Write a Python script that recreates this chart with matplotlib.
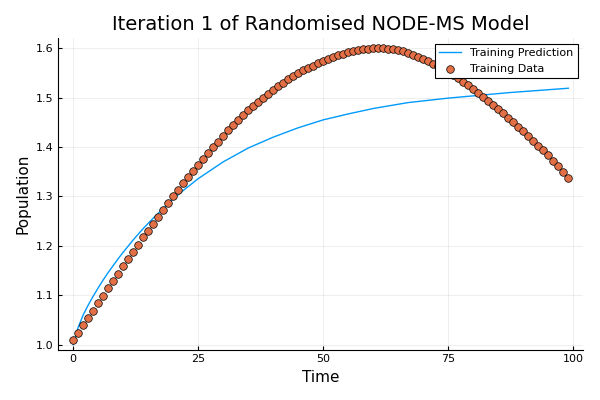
import matplotlib.pyplot as plt

data_t = list(range(100))
data_y = [
    1.009, 1.024, 1.039, 1.054, 1.069, 1.084, 1.099, 1.114, 1.129, 1.144, 1.159,
    1.173, 1.188, 1.202, 1.217, 1.231, 1.245, 1.259, 1.273, 1.287, 1.301,
    1.314, 1.327, 1.340, 1.352, 1.364, 1.376, 1.388, 1.400, 1.411, 1.423,
    1.434, 1.444, 1.454, 1.464, 1.474, 1.483, 1.492, 1.500, 1.508, 1.516,
    1.523, 1.530, 1.537, 1.543, 1.549, 1.555, 1.560, 1.565, 1.570, 1.575,
    1.579, 1.583, 1.586, 1.589, 1.592, 1.594, 1.596, 1.598, 1.599, 1.600,
    1.600, 1.600, 1.599, 1.598, 1.596, 1.594, 1.591, 1.587, 1.583, 1.578,
    1.574, 1.569, 1.564, 1.558, 1.552, 1.546, 1.539, 1.532, 1.525, 1.518,
    1.510, 1.502, 1.494, 1.486, 1.477, 1.468, 1.459, 1.450, 1.441, 1.432,
    1.423, 1.413, 1.403, 1.393, 1.383, 1.372, 1.361, 1.349, 1.337,
]

pred_t = [0, 1, 2, 3, 4, 5, 6, 7, 8, 9, 10, 12, 14, 16, 18, 20, 22, 25, 30,
          35, 40, 45, 50, 55, 60, 67, 75, 87, 99]
pred_y = [1.000, 1.035, 1.060, 1.080, 1.098, 1.115, 1.131, 1.146, 1.160, 1.174,
          1.187, 1.212, 1.235, 1.256, 1.276, 1.295, 1.312, 1.336, 1.370,
          1.398, 1.420, 1.439, 1.455, 1.467, 1.478, 1.490, 1.499, 1.510, 1.519]

fig, ax = plt.subplots(figsize=(6, 4), dpi=100)
ax.plot(pred_t, pred_y, color="#009AFA", lw=1, label="Training Prediction")
ax.scatter(data_t, data_y, s=30, color="#E26F46", edgecolors="black",
           linewidths=0.5, zorder=3, label="Training Data")

ax.set_title("Iteration 1 of Randomised NODE-MS Model", fontsize=14)
ax.set_xlabel("Time", fontsize=11)
ax.set_ylabel("Population", fontsize=11)
ax.set_xlim(-3, 102)
ax.set_ylim(0.99, 1.62)
ax.set_xticks([0, 25, 50, 75, 100])
ax.set_yticks([1.0, 1.1, 1.2, 1.3, 1.4, 1.5, 1.6])
ax.tick_params(labelsize=8, direction="in", length=3)
ax.grid(True, color="black", alpha=0.08, lw=0.6)
ax.spines["top"].set_visible(False)
ax.spines["right"].set_visible(False)

leg = ax.legend(loc="upper right", fontsize=8, fancybox=False,
                edgecolor="black", framealpha=1, borderaxespad=0.5)
leg.get_frame().set_linewidth(0.8)

plt.tight_layout()
plt.savefig("out.png", dpi=100)
plt.close()
